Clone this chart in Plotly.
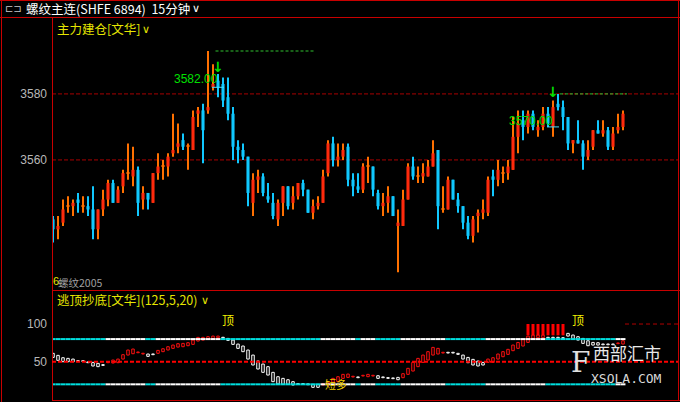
import plotly.graph_objects as go

W, H = 680, 402

# ---------------- data ----------------
opens = [3542, 3539, 3541, 3546, 3546, 3548, 3546, 3546, 3545, 3539,
         3545, 3548, 3553, 3547, 3552, 3556, 3555, 3557, 3548, 3550,
         3547, 3556, 3558, 3558, 3562, 3564, 3566, 3564, 3563, 3574,
         3575, 3575, 3582, 3584, 3583, 3579, 3574, 3564, 3563, 3561,
         3547, 3554, 3555, 3549, 3547, 3542, 3547, 3552, 3547, 3549,
         3553, 3551, 3544, 3546, 3547, 3556, 3565, 3560, 3561, 3564,
         3554, 3552, 3551, 3558, 3558, 3550, 3546, 3547, 3549, 3540,
         3540, 3548, 3558, 3555, 3555, 3555, 3558, 3563, 3545, 3545,
         3554, 3548, 3546, 3541, 3537, 3543, 3544, 3544, 3555, 3554,
         3556, 3556, 3557, 3567, 3572, 3570, 3574, 3569, 3570, 3574,
         3570, 3577, 3576, 3573, 3565, 3566, 3565, 3561, 3564, 3569,
         3568, 3569, 3564, 3569, 3570]
highs = [3543, 3543, 3548, 3549, 3548, 3550, 3549, 3549, 3552, 3545,
         3551, 3554, 3554, 3552, 3557, 3565, 3564, 3558, 3552, 3550,
         3556, 3562, 3560, 3562, 3574, 3571, 3568, 3565, 3575, 3576,
         3577, 3593, 3589, 3586, 3585, 3585, 3576, 3566, 3565, 3561,
         3556, 3557, 3556, 3553, 3550, 3548, 3552, 3552, 3552, 3553,
         3554, 3551, 3548, 3549, 3557, 3566, 3567, 3565, 3565, 3565,
         3556, 3556, 3559, 3561, 3558, 3551, 3550, 3552, 3549, 3545,
         3551, 3559, 3561, 3558, 3559, 3560, 3566, 3563, 3552, 3555,
         3554, 3550, 3546, 3543, 3543, 3545, 3548, 3555, 3557, 3560,
         3558, 3560, 3573, 3575, 3575, 3575, 3575, 3572, 3576, 3576,
         3578, 3580, 3578, 3573, 3566, 3572, 3566, 3566, 3569, 3572,
         3572, 3570, 3570, 3574, 3575]
lows = [3535, 3536, 3540, 3544, 3543, 3544, 3544, 3543, 3536, 3536,
        3543, 3546, 3547, 3547, 3550, 3554, 3552, 3543, 3545, 3545,
        3547, 3554, 3554, 3555, 3561, 3562, 3563, 3557, 3563, 3570,
        3559, 3574, 3581, 3579, 3576, 3572, 3560, 3559, 3560, 3546,
        3543, 3550, 3549, 3547, 3542, 3540, 3543, 3545, 3545, 3548,
        3549, 3544, 3542, 3545, 3547, 3555, 3558, 3558, 3560, 3552,
        3549, 3550, 3550, 3553, 3549, 3545, 3543, 3544, 3543, 3526,
        3540, 3548, 3554, 3553, 3553, 3555, 3558, 3539, 3544, 3545,
        3548, 3544, 3539, 3536, 3535, 3538, 3542, 3543, 3549, 3552,
        3553, 3554, 3557, 3562, 3566, 3568, 3569, 3567, 3569, 3570,
        3567, 3575, 3569, 3563, 3562, 3565, 3557, 3560, 3563, 3568,
        3567, 3563, 3563, 3568, 3569]
closes = [3539, 3540, 3545, 3546, 3547, 3547, 3546, 3545, 3539, 3545,
          3548, 3553, 3547, 3551, 3556, 3556, 3557, 3547, 3550, 3548,
          3556, 3558, 3558, 3561, 3563, 3565, 3564, 3564, 3573, 3575,
          3569, 3576, 3583, 3582, 3578, 3574, 3564, 3563, 3561, 3550,
          3554, 3555, 3550, 3548, 3543, 3547, 3552, 3546, 3549, 3553,
          3551, 3544, 3546, 3547, 3555, 3565, 3560, 3561, 3563, 3554,
          3552, 3551, 3558, 3558, 3551, 3546, 3547, 3549, 3543, 3541,
          3548, 3558, 3555, 3555, 3556, 3558, 3562, 3546, 3545, 3554,
          3548, 3546, 3541, 3537, 3542, 3544, 3545, 3554, 3554, 3557,
          3556, 3558, 3567, 3571, 3570, 3574, 3570, 3570, 3574, 3571,
          3576, 3576, 3573, 3565, 3566, 3565, 3561, 3563, 3569, 3568,
          3569, 3564, 3568, 3570, 3574]

# oscillator (逃顶抄底): two lines, box drawn between them
osc_fast = [55.7, 51.8, 50.0, 50.0, 50.0, 50.4, 50.4, 48.7, 44.3, 43.4,
            45.1, 49.6, 52.2, 53.5, 59.3, 65.5, 66.8, 62.8, 61.1, 57.1,
            59.3, 65.0, 67.2, 69.9, 72.1, 73.9, 74.3, 75.2, 78.7, 82.3,
            82.3, 83.2, 84.0, 84.0, 81.4, 78.3, 73.0, 67.7, 63.3, 53.5,
            45.6, 40.3, 35.9, 32.3, 23.5, 20.4, 19.9, 19.9, 19.1, 19.9,
            19.9, 19.5, 16.0, 16.0, 20.8, 23.5, 27.9, 30.1, 33.2, 33.6,
            30.6, 28.8, 31.9, 33.2, 31.9, 27.9, 28.8, 27.9, 27.5, 26.1,
            34.1, 41.2, 49.1, 54.4, 58.8, 63.3, 69.0, 67.7, 62.4, 61.5,
            61.5, 59.7, 53.5, 48.7, 45.6, 44.3, 45.6, 53.5, 55.3, 60.2,
            63.3, 66.4, 72.1, 75.6, 79.6, 84.0, 85.4, 85.4, 85.4, 81.4,
            81.4, 81.4, 80.9, 84.0, 79.6, 78.7, 74.3, 71.2, 72.1, 72.1,
            72.5, 72.5, 72.5, 74.3, 77.8]
osc_slow = [61.1, 58.4, 55.3, 54.4, 53.5, 51.3, 51.3, 49.6, 49.1, 47.8,
            46.0, 48.7, 48.2, 48.7, 53.5, 58.8, 60.6, 61.9, 60.2, 60.2,
            60.2, 61.1, 63.3, 65.5, 67.7, 69.4, 69.9, 71.2, 73.0, 77.4,
            78.7, 79.6, 80.9, 81.8, 82.3, 80.9, 78.7, 73.4, 70.8, 65.5,
            58.8, 50.9, 46.9, 43.4, 35.9, 30.1, 27.9, 26.1, 23.5, 20.8,
            20.8, 20.4, 19.9, 19.9, 19.1, 19.1, 22.6, 23.5, 27.9, 29.2,
            29.7, 29.7, 31.0, 30.1, 31.0, 31.4, 29.7, 28.8, 28.3, 29.2,
            28.8, 33.2, 37.6, 43.4, 49.1, 52.2, 58.8, 60.2, 61.5, 62.4,
            62.4, 61.1, 58.8, 55.7, 53.1, 50.9, 49.1, 49.1, 49.1, 53.5,
            56.6, 59.7, 64.6, 67.7, 70.8, 75.6, 80.9, 81.8, 81.8, 82.3,
            82.3, 82.3, 81.8, 87.6, 85.4, 83.2, 80.9, 77.8, 75.6, 75.2,
            73.4, 73.4, 73.4, 73.9, 73.4]

signal_idx = [96, 97, 98, 99, 100, 101, 102, 103]
signal_low, signal_high = 85, 100

price_ticks = [3560, 3580]
osc_ticks = [50, 100]
osc_levels = [20, 50, 80]

top_labels_idx = [36, 106]
mark_idx = [34, 101]
mark_price = [3582.00, 3570.00]
mark_text_price = [3584.5, 3571.8]
arrow_price = [3588.0, 3580.6]
resist_level = [3593, 3580]
resist_start = [33.5, 102.4]
resist_end = [53.4, 115.8]

# ---------------- figure ----------------
n = len(opens)
idx = list(range(1, n + 1))

UP_BODY = '#ff2a0c'
UP_WICK = '#ff7000'
DOWN = '#10c8ff'

body_base, body_h, body_col, wick_col = [], [], [], []
for o, h, l, c in zip(opens, highs, lows, closes):
    body_base.append(min(o, c))
    body_h.append(max(abs(c - o), 0.32))
    if c > o:
        body_col.append(UP_BODY); wick_col.append(UP_WICK)
    elif c < o:
        body_col.append(DOWN); wick_col.append(DOWN)
    else:
        body_col.append(UP_WICK); wick_col.append(UP_WICK)

fig = go.Figure()
fig.add_trace(go.Bar(x=idx, y=[h - l for h, l in zip(highs, lows)], base=lows,
                     width=0.22, marker=dict(color=wick_col, line=dict(width=0)),
                     xaxis='x', yaxis='y', hoverinfo='skip'))
fig.add_trace(go.Bar(x=idx, y=body_h, base=body_base, width=0.62,
                     marker=dict(color=body_col, line=dict(width=0)),
                     xaxis='x', yaxis='y', hoverinfo='skip'))

# oscillator boxes
o_base = [min(a, b) for a, b in zip(osc_fast, osc_slow)]
o_h = [max(abs(a - b), 1.0) for a, b in zip(osc_fast, osc_slow)]
o_col = ['#ff1010' if a >= b else '#ffffff' for a, b in zip(osc_fast, osc_slow)]
fig.add_trace(go.Bar(x=signal_idx, y=[signal_high - signal_low] * len(signal_idx),
                     base=[signal_low] * len(signal_idx), width=0.6,
                     marker=dict(color='#ff0000', line=dict(width=0)),
                     xaxis='x2', yaxis='y2', hoverinfo='skip'))
fig.add_trace(go.Bar(x=idx, y=o_h, base=o_base, width=0.5,
                     marker=dict(color='rgba(0,0,0,0)', line=dict(color=o_col, width=1)),
                     xaxis='x2', yaxis='y2', hoverinfo='skip'))

lvl_col = ['#ffffff' if a >= b else '#00e0e0' for a, b in zip(osc_fast, osc_slow)]
for lv in (osc_levels[0], osc_levels[2]):
    fig.add_trace(go.Scatter(x=idx, y=[lv] * n, mode='markers',
                             marker=dict(symbol='line-ew', size=3.5,
                                         line=dict(color=lvl_col, width=2)),
                             xaxis='x2', yaxis='y2', hoverinfo='skip'))

RED = '#c80000'
shapes = []
def hline(x0, x1, y, color=RED, width=1, dash='solid'):
    shapes.append(dict(type='line', xref='paper', yref='paper',
                       x0=x0 / W, x1=x1 / W, y0=1 - y / H, y1=1 - y / H,
                       line=dict(color=color, width=width, dash=dash)))
def vline(x, y0, y1, color=RED, width=1):
    shapes.append(dict(type='line', xref='paper', yref='paper',
                       x0=x / W, x1=x / W, y0=1 - y0 / H, y1=1 - y1 / H,
                       line=dict(color=color, width=width)))

# price grid lines (dark red dashes)
for tv in price_ticks:
    shapes.append(dict(type='line', xref='x domain', yref='y', x0=0, x1=1, y0=tv, y1=tv,
                       layer='below', line=dict(color='#a80000', width=1, dash='4px,2px')))

# frame
hline(0, W, 0.5)
hline(0, W, 17.5)
hline(52, W, 290.5)
hline(52, W, 400.5)
vline(1.5, 0, H)
vline(52.5, 17, 401)
vline(678.5, 0, 401)

# 50 level in sub panel, 100 partial line
shapes.append(dict(type='line', xref='x2 domain', yref='y2', x0=0, x1=1,
                   y0=osc_levels[1], y1=osc_levels[1],
                   line=dict(color='#ff0000', width=2, dash='4px,2px')))
shapes.append(dict(type='line', xref='x2', yref='y2', x0=115.4, x1=126,
                   y0=osc_ticks[1], y1=osc_ticks[1],
                   line=dict(color='#b00000', width=1, dash='4px,3px')))

# green resistance dashed lines
for lv, s, e in zip(resist_level, resist_start, resist_end):
    shapes.append(dict(type='line', xref='x', yref='y', x0=s, x1=e, y0=lv, y1=lv,
                       line=dict(color='#30c030', width=1, dash='3px,2px')))
# cyan brackets at mark price
for mi, mp in zip(mark_idx, mark_price):
    shapes.append(dict(type='line', xref='x', yref='y', x0=mi - 1.2, x1=mi + 1.2,
                       y0=mp, y1=mp, line=dict(color='#40e0ff', width=1)))

ann = []
CJK = 'Noto Sans CJK SC'
def ptext(x, y, t, color, size=12, anchor='left', family=CJK):
    ann.append(dict(xref='paper', yref='paper', x=x / W, y=1 - y / H, text=t,
                    showarrow=False, xanchor=anchor, yanchor='middle',
                    font=dict(color=color, size=size, family=family)))

ptext(3, 9, '⊏⊐', '#c8c8c8', 10, family='DejaVu Sans')
ptext(24, 9, '螺纹主连(SHFE 6894)  15分钟', '#ffffff', 12.5)
ptext(190, 9, '∨', '#ffffff', 11, family='DejaVu Sans')
ptext(55, 29, '主力建仓[文华]', '#e6e600', 12.5)
ptext(140, 30, '∨', '#e6e600', 11, family='DejaVu Sans')
ptext(55, 299, '逃顶抄底[文华](125,5,20)', '#e6e600', 12.5)
ptext(199, 300, '∨', '#e6e600', 11, family='DejaVu Sans')
ptext(56, 282, '螺纹2005', '#a0a0a0', 10.5)
ptext(51, 281, '6', '#e6e600', 11, family='Liberation Sans')

# watermark
ptext(627, 352, '西部汇市', '#e8e8e8', 17, anchor='center')
ptext(626, 378, 'XSOLA.COM', '#d8d8d8', 13, anchor='center', family='DejaVu Sans Mono')
ptext(580, 362, 'F', '#e0e0e0', 28, anchor='center', family='DejaVu Serif')

for mi, tp, t in zip(mark_idx, mark_text_price, mark_price):
    ann.append(dict(xref='x', yref='y', x=mi + 0.3, y=tp, text='%.2f' % t, showarrow=False,
                    xanchor='right', yanchor='middle',
                    font=dict(color='#00e000', size=12, family='Liberation Sans')))
for mi, ap in zip(mark_idx, arrow_price):
    ann.append(dict(xref='x', yref='y', x=mi, y=ap, text='<b>↓</b>', showarrow=False,
                    xanchor='center', yanchor='middle',
                    font=dict(color='#00e000', size=14, family='DejaVu Sans')))
for ti in top_labels_idx:
    ann.append(dict(xref='x2', yref='y2', x=ti, y=106, text='顶', showarrow=False,
                    xanchor='center', yanchor='middle',
                    font=dict(color='#f0f000', size=12, family=CJK)))
ann.append(dict(xref='x2', yref='y2', x=57.5, y=osc_levels[0] + 1, text='短多', showarrow=False,
                xanchor='center', yanchor='middle',
                font=dict(color='#f0d000', size=11, family=CJK)))

xdom = [52 / W, 678 / W]
fig.update_layout(
    width=W, height=H, margin=dict(l=0, r=0, t=0, b=0),
    paper_bgcolor='#000000', plot_bgcolor='#000000',
    showlegend=False, barmode='overlay',
    xaxis=dict(domain=xdom, range=[0.8, 126], visible=False, anchor='y'),
    xaxis2=dict(domain=xdom, range=[0.8, 126], visible=False, anchor='y2', matches='x'),
    yaxis=dict(domain=[1 - 289 / H, 1 - 17 / H], range=[3520.9, 3603.3],
               tickvals=price_ticks, ticktext=[str(v) for v in price_ticks],
               tickfont=dict(color='#b8b8b8', size=12, family='Liberation Sans'),
               ticklabelstandoff=4,
               showgrid=False, zeroline=False, showline=False, ticks='', anchor='x'),
    yaxis2=dict(domain=[1 - 400 / H, 1 - 291 / H], range=[-0.8, 143.8],
                tickvals=osc_ticks, ticktext=[str(v) for v in osc_ticks],
                tickfont=dict(color='#b8b8b8', size=12, family='Liberation Sans'),
                ticklabelstandoff=4,
                showgrid=False, zeroline=False, showline=False, ticks='', anchor='x2'),
    shapes=shapes, annotations=ann,
)

fig.write_html('out.html', config={'displayModeBar': False},
               post_script="document.body.style.margin='0';document.body.style.background='#000';")
